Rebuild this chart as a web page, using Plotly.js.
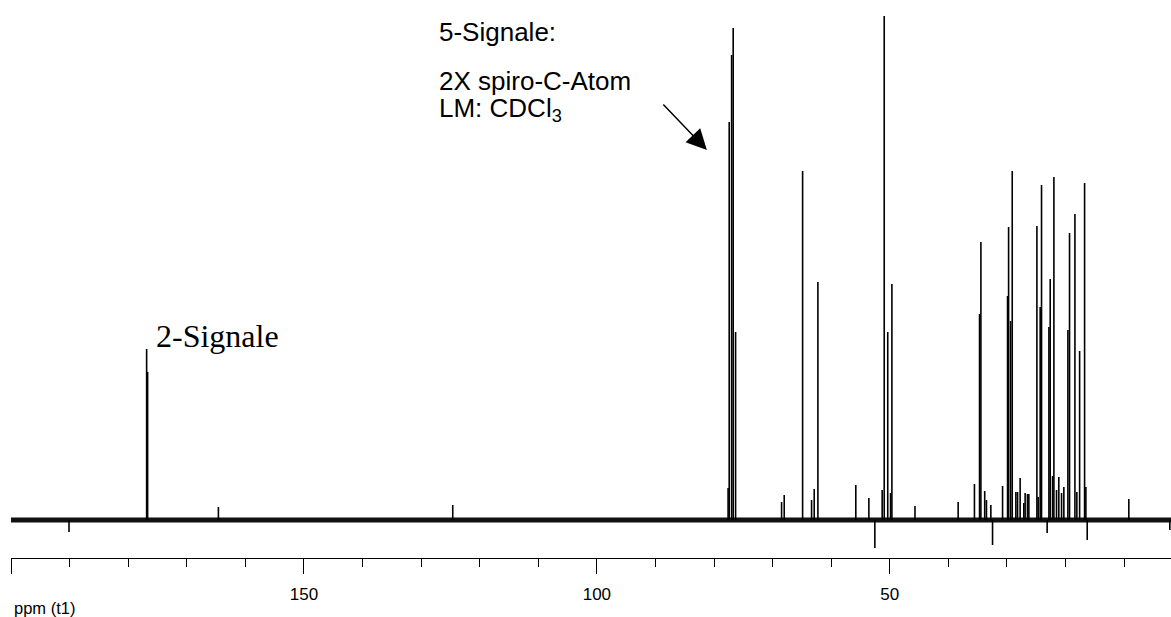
<!DOCTYPE html>
<html>
<head>
<meta charset="utf-8">
<script src="https://cdn.plot.ly/plotly-3.0.1.min.js"></script>
<style>
html,body{margin:0;padding:0;background:#ffffff;}
#chart{width:1171px;height:617px;}
</style>
</head>
<body>
<div id="chart"></div>
<script>
// 13C NMR spectrum, peak positions (ppm) and intensities (arbitrary units)
const peakPpm = [
  190.1, 176.85, 176.68, 164.6, 124.6,
  77.6, 77.41, 77.0, 76.73, 76.32,
  68.47, 68.02, 64.88, 63.35, 62.9, 62.27,
  55.8, 53.57, 52.55, 51.3, 50.95, 50.35, 49.87, 49.64, 45.7,
  38.33, 35.55, 34.68, 34.45, 33.8, 33.5, 32.75, 32.46,
  30.75, 29.9, 29.72, 29.38, 29.1, 28.48, 28.19, 27.75, 27.13, 26.9, 26.5, 26.26,
  24.89, 24.67, 24.33, 24.1, 23.14, 22.84, 22.62, 22.22, 21.99,
  21.54, 21.15, 20.68, 20.29, 19.6, 19.32, 18.4, 18.07, 17.6,
  16.75, 16.53, 16.3, 9.2, 2.2
];
const peakHeight = [
  -12, 171, 148, 13, 15,
  32, 398, 465, 492, 188,
  18, 25, 349, 20, 31, 238,
  35, 22, -28, 30, 504, 188, 27, 236, 14,
  18, 36, 206, 278, 29, 20, 15, -25,
  34, 224, 293, 199, 349, 28, 28, 42, 17, 27, 26, 26,
  294, 23, 213, 335, -13, 193, 241, 44, 343,
  30, 43, 27, 33, 190, 287, 306, 28, 169,
  337, 33, -20, 21, -10
];
const axisTickVals = [200, 150, 100, 50];
const axisTickText = ['', '150', '100', '50'];
const xRange = [200, 2];
const baselinePpm = [200, 2];
const baselineValue = [0, 0];
const axisLabel = 'ppm (t1)';
const noteLabels = ['5-Signale:', '2X spiro-C-Atom', 'LM: CDCl<sub>3</sub>'];
const leftLabel = '2-Signale';

// build stick representation through the library's own axes
const sx = [], sy = [];
for (let i = 0; i < peakPpm.length; i++) {
  sx.push(peakPpm[i], peakPpm[i], null);
  sy.push(0, peakHeight[i], null);
}

const sans = 'Liberation Sans, Arial, Helvetica, sans-serif';
const serif = 'Liberation Serif, Times New Roman, serif';

const traces = [
  {
    x: baselinePpm, y: baselineValue, type: 'scatter', mode: 'lines',
    line: {color: '#111111', width: 5}, hoverinfo: 'skip', showlegend: false
  },
  {
    x: sx, y: sy, type: 'scatter', mode: 'lines', connectgaps: false,
    line: {color: '#000000', width: 1.6}, hoverinfo: 'skip', showlegend: false
  }
];

const layout = {
  width: 1171, height: 617,
  margin: {l: 11, r: 0, t: 0, b: 59, pad: 0},
  paper_bgcolor: '#ffffff', plot_bgcolor: '#ffffff',
  showlegend: false,
  font: {family: sans, color: '#000000'},
  xaxis: {
    range: xRange, autorange: false,
    showgrid: false, zeroline: false,
    showline: true, linecolor: '#000000', linewidth: 1,
    ticks: 'outside', ticklen: 15, tickwidth: 1, tickcolor: '#000000',
    tickmode: 'array', tickvals: axisTickVals, ticktext: axisTickText,
    ticklabelstandoff: 6,
    tickfont: {family: sans, size: 17, color: '#000000'},
    minor: {tickmode: 'linear', tick0: 0, dtick: 10, ticks: 'outside', ticklen: 8, tickwidth: 1, tickcolor: '#000000', showgrid: false}
  },
  yaxis: {
    range: [-38, 520], autorange: false, visible: false,
    showgrid: false, zeroline: false
  },
  annotations: [
    {text: axisLabel, xref: 'paper', yref: 'paper', x: 0, y: -0.0896, xanchor: 'left', yanchor: 'middle', xshift: 1,
     showarrow: false, font: {family: sans, size: 16.5, color: '#000000'}},
    {text: noteLabels[0], xref: 'x', yref: 'y', x: 127.3, y: 488, xanchor: 'left', yanchor: 'middle',
     showarrow: false, font: {family: sans, size: 26, color: '#000000'}},
    {text: noteLabels[1], xref: 'x', yref: 'y', x: 127.3, y: 439, xanchor: 'left', yanchor: 'middle',
     showarrow: false, font: {family: sans, size: 26, color: '#000000'}},
    {text: noteLabels[2], xref: 'x', yref: 'y', x: 127.3, y: 411, xanchor: 'left', yanchor: 'middle',
     showarrow: false, font: {family: sans, size: 26, color: '#000000'}},
    {text: leftLabel, xref: 'x', yref: 'y', x: 175.6, y: 184, xanchor: 'left', yanchor: 'middle',
     showarrow: false, font: {family: serif, size: 32, color: '#000000'}},
    {text: '', xref: 'x', yref: 'y', x: 81.22, y: 370, showarrow: true,
     ax: -45, ay: -47, axref: 'pixel', ayref: 'pixel',
     arrowhead: 2, arrowsize: 2.7, arrowwidth: 1.5, arrowcolor: '#000000', standoff: 0}
  ]
};

Plotly.newPlot('chart', traces, layout, {staticPlot: true, displayModeBar: false});
</script>
</body>
</html>
